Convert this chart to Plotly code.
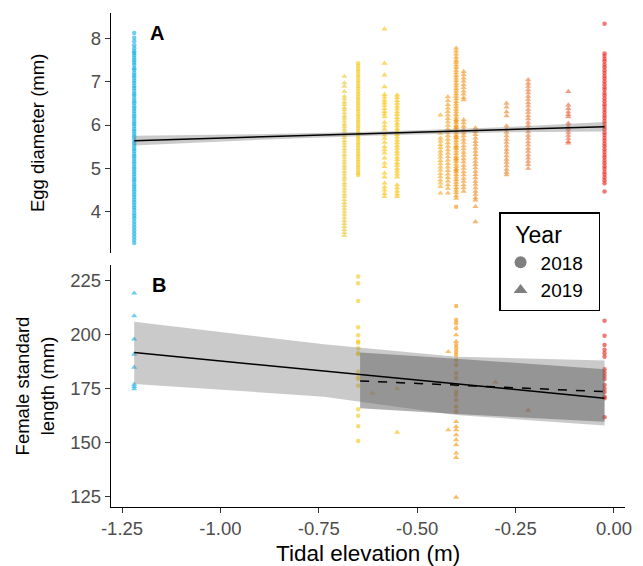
import plotly.graph_objects as go

FONT = "Liberation Sans, Arial, sans-serif"

# ---- sampling sites: tidal elevation (m) and colour ----
site_elev = [-1.219, -0.685, -0.650, -0.583, -0.551, -0.441, -0.422,
             -0.401, -0.382, -0.352, -0.273, -0.218, -0.116, -0.024]
site_color = ["#1fb4ea", "#eccd45", "#f2cd2c", "#f7c71b", "#f9c214", "#f4b02e", "#f3a52b",
              "#f59b1c", "#f39a2d", "#f0922f", "#ee8a36", "#ec7f3e", "#ea6a48", "#e8332a"]

# ---- panel A: egg diameter (mm) by site and year ----
egg_s01_2018 = [8.12, 8.01, 7.93, 7.84, 7.77, 7.70, 7.66, 7.61, 7.55, 7.49, 7.44, 7.38, 7.31, 7.27,
                7.20, 7.14, 7.09, 7.02, 6.97, 6.90, 6.85, 6.79, 6.72, 6.68, 6.61, 6.55, 6.50, 6.43,
                6.38, 6.32, 6.26, 6.20, 6.15, 6.08, 6.03, 5.98, 5.91, 5.86, 5.80, 5.74, 5.69, 5.62,
                5.57, 5.51, 5.45, 5.40, 5.33, 5.28, 5.22, 5.16, 5.11, 5.04, 4.99, 4.93, 4.87, 4.81,
                4.75, 4.70, 4.63, 4.58, 4.52, 4.46, 4.40, 4.34, 4.28, 4.22, 4.16, 4.10, 4.04, 3.97,
                3.91, 3.85, 3.78, 3.71, 3.64, 3.57, 3.50, 3.43, 3.36, 3.28]
egg_s02_2019 = [7.12, 6.97, 6.89, 6.77, 6.66, 6.60, 6.53, 6.47, 6.40, 6.35, 6.28, 6.21, 6.16, 6.09,
                6.02, 5.97, 5.90, 5.84, 5.77, 5.71, 5.64, 5.58, 5.52, 5.45, 5.39, 5.32, 5.26, 5.19,
                5.13, 5.06, 5.00, 4.93, 4.87, 4.80, 4.74, 4.67, 4.61, 4.54, 4.48, 4.41, 4.35, 4.28,
                4.21, 4.15, 4.08, 4.01, 3.94, 3.87, 3.80, 3.73, 3.66, 3.59, 3.52, 3.45]
egg_s03_2018 = [7.42, 7.36, 7.29, 7.23, 7.16, 7.10, 7.03, 6.97, 6.90, 6.84, 6.77, 6.71, 6.64, 6.58,
                6.51, 6.45, 6.38, 6.32, 6.25, 6.19, 6.12, 6.06, 5.99, 5.93, 5.86, 5.80, 5.73, 5.67,
                5.60, 5.54, 5.47, 5.41, 5.34, 5.28, 5.21, 5.15, 5.08, 5.02, 4.95, 4.89, 4.85]
egg_s04_2019 = [8.21, 7.42, 7.15, 6.88, 6.70, 6.64, 6.57, 6.51, 6.45, 6.38, 6.31, 6.25, 6.19, 6.06,
                5.98, 5.90, 5.77, 5.69, 5.60, 5.50, 5.43, 5.35, 5.24, 5.12, 5.04, 4.89, 4.80, 4.66,
                4.57, 4.50, 4.42, 4.35]
egg_s05_2019 = [6.69, 6.63, 6.56, 6.50, 6.43, 6.37, 6.30, 6.24, 6.17, 6.11, 6.04, 5.98, 5.91, 5.85,
                5.78, 5.72, 5.65, 5.59, 5.52, 5.46, 5.39, 5.33, 5.26, 5.20, 5.13, 5.07, 5.00, 4.94,
                4.87, 4.80, 4.62, 4.55, 4.48, 4.41, 4.35]
egg_s06_2019 = [6.23, 5.81, 5.70, 5.63, 5.55, 5.48, 5.40, 5.33, 5.26, 5.18, 5.11, 5.03, 4.96, 4.88,
                4.81, 4.73, 4.66, 4.58, 4.43]
egg_s07_2019 = [6.65, 6.56, 6.47, 6.39, 6.31, 6.23, 6.15, 6.07, 5.99, 5.91, 5.83, 5.75, 5.67, 5.59,
                5.51, 5.43, 5.35, 5.27, 5.19, 5.11, 5.03, 4.95, 4.87, 4.79, 4.71, 4.62, 4.54, 4.43]
egg_s08_2019 = [7.77, 7.70, 7.63, 7.56, 7.49, 7.44, 7.38, 7.32, 7.26, 7.20, 7.14, 7.08, 7.02, 6.96,
                6.90, 6.84, 6.78, 6.72, 6.66, 6.60, 6.54, 6.48, 6.42, 6.36, 6.30, 6.24, 6.18, 6.12,
                6.06, 6.00, 5.94, 5.88, 5.82, 5.76, 5.70, 5.64, 5.58, 5.52, 5.46, 5.40, 5.34, 5.28,
                5.22, 5.16, 5.10, 5.04, 4.98, 4.92, 4.86, 4.80, 4.74, 4.68, 4.62, 4.56, 4.50, 4.44,
                4.37, 4.31]
egg_s08_2018 = [6.10, 5.95, 5.72, 5.48, 5.21, 4.96, 4.12]
egg_s09_2019 = [7.23, 7.16, 7.08, 7.01, 6.93, 6.86, 6.78, 6.71, 6.63, 6.58, 6.12, 6.05, 5.97, 5.90,
                5.82, 5.75, 5.67, 5.60, 5.52, 5.45, 5.37, 5.30, 5.22, 5.15, 5.07, 5.00, 4.92, 4.85,
                4.77, 4.70, 4.62, 4.55, 4.47]
egg_s10_2019 = [5.93, 5.85, 5.78, 5.70, 5.62, 5.55, 5.47, 5.39, 5.32, 5.24, 5.16, 5.09, 5.01, 4.93,
                4.86, 4.78, 4.70, 4.63, 4.55, 4.47, 4.40, 4.32, 4.27, 4.12, 3.77]
egg_s11_2019 = [6.50, 6.41, 6.30, 6.21, 5.98, 5.90, 5.83, 5.75, 5.67, 5.60, 5.52, 5.44, 5.37, 5.29,
                5.21, 5.14, 5.06, 4.98, 4.91, 4.85]
egg_s12_2019 = [7.04, 6.96, 6.89, 6.81, 6.74, 6.66, 6.59, 6.51, 6.44, 6.36, 6.29, 6.21, 6.14, 6.06,
                5.99, 5.91, 5.84, 5.76, 5.69, 5.61, 5.54, 5.46, 5.39, 5.31, 5.24, 5.16, 5.09, 5.00]
egg_s13_2019 = [6.77, 6.46, 6.38, 6.30, 6.24, 6.19, 6.04, 5.97, 5.90, 5.83, 5.76, 5.69, 5.62, 5.58]
egg_s14_2018 = [8.33, 7.65, 7.59, 7.52, 7.46, 7.39, 7.33, 7.26, 7.20, 7.13, 7.07, 7.00, 6.94, 6.87,
                6.81, 6.74, 6.68, 6.61, 6.55, 6.48, 6.42, 6.35, 6.29, 6.22, 6.16, 6.09, 6.03, 5.96,
                5.90, 5.83, 5.77, 5.70, 5.64, 5.57, 5.51, 5.44, 5.38, 5.31, 5.25, 5.18, 5.12, 5.05,
                4.99, 4.92, 4.86, 4.79, 4.73, 4.66, 4.47]

# fitted egg-diameter model (mean and 95% band)
egg_fit_x = [-1.219, -0.90, -0.60, -0.30, -0.024]
egg_fit = [5.64, 5.725, 5.806, 5.886, 5.96]
egg_fit_hi = [5.75, 5.79, 5.85, 5.94, 6.07]
egg_fit_lo = [5.53, 5.66, 5.76, 5.83, 5.85]

# ---- panel B: female standard length (mm) ----
sl_s01_2019 = [219.2, 208.7, 197.9, 190.9, 184.9, 177.0, 175.9, 174.9]
sl_s03_2018 = [226.9, 223.8, 215.6, 203.4, 199.7, 196.8, 196.3, 193.7, 191.4, 191.1, 182.9,
               180.3, 179.5, 176.3, 165.5, 162.5, 157.6, 150.8]
sl_s08_2018 = [213.3, 206.8, 205.3, 203.0, 195.2, 193.7, 192.1, 190.6, 188.3, 186.0, 182.1,
               179.8, 176.7, 173.6, 172.1, 169.8, 166.7, 164.4]
sl_s08_2019 = [199.9, 196.8, 159.7, 157.4, 155.9, 153.6, 151.3, 149.0, 145.1, 143.1, 124.7]
sl_s14_2018 = [206.4, 199.5, 195.2, 193.0, 191.4, 189.8, 184.0, 182.5, 181.0, 179.5, 176.7,
               175.0, 173.5, 171.3, 170.6, 161.8]
# single 2019 females from other sites
sl_other_x = [-0.614, -0.551, -0.551, -0.421, -0.421, -0.301, -0.218]
sl_other_y = [172.9, 175.0, 154.8, 192.1, 155.9, 178.0, 165.0]
sl_other_color = ["#f2c830", "#f9c214", "#f9c214", "#f3a52b", "#f3a52b", "#ee8a36", "#ec7f3e"]

# full-range model and restricted-range model (mean and 95% band)
sl_fit_x = [-1.219, -0.737, -0.40, -0.024]
sl_fit = [191.7, 183.2, 177.3, 170.6]
sl_fit_hi = [206.0, 195.6, 189.8, 188.0]
sl_fit_lo = [177.2, 171.3, 162.8, 157.9]
sl_sub_x = [-0.645, -0.401, -0.024]
sl_sub = [178.6, 176.6, 173.6]
sl_sub_hi = [191.7, 188.9, 184.0]
sl_sub_lo = [165.9, 163.3, 159.7]

x_ticks = [-1.25, -1.00, -0.75, -0.50, -0.25, 0.00]
x_tick_text = ["-1.25", "-1.00", "-0.75", "-0.50", "-0.25", "0.00"]
egg_ticks = [4, 5, 6, 7, 8]
sl_ticks = [125, 150, 175, 200, 225]

SYMBOL = {2018: "circle", 2019: "triangle-up"}
SIZE = {2018: 4.5, 2019: 5.5}
ALPHA = 0.66

fig = go.Figure()


def add_points(site, year, values, xa, ya):
    fig.add_trace(go.Scatter(
        x=[site_elev[site]] * len(values), y=values, mode="markers",
        marker=dict(symbol=SYMBOL[year], size=SIZE[year], color=site_color[site],
                    opacity=ALPHA, line=dict(width=0)),
        xaxis=xa, yaxis=ya, showlegend=False, hoverinfo="skip"))


egg_groups = [
    (0, 2018, egg_s01_2018), (1, 2019, egg_s02_2019), (2, 2018, egg_s03_2018),
    (3, 2019, egg_s04_2019), (4, 2019, egg_s05_2019), (5, 2019, egg_s06_2019),
    (6, 2019, egg_s07_2019), (7, 2019, egg_s08_2019), (7, 2018, egg_s08_2018),
    (8, 2019, egg_s09_2019), (9, 2019, egg_s10_2019), (10, 2019, egg_s11_2019),
    (11, 2019, egg_s12_2019), (12, 2019, egg_s13_2019), (13, 2018, egg_s14_2018),
]
for site, year, vals in egg_groups:
    add_points(site, year, vals, "x", "y")

sl_groups = [
    (0, 2019, sl_s01_2019), (2, 2018, sl_s03_2018), (7, 2018, sl_s08_2018),
    (7, 2019, sl_s08_2019), (13, 2018, sl_s14_2018),
]
for site, year, vals in sl_groups:
    add_points(site, year, vals, "x2", "y2")

fig.add_trace(go.Scatter(
    x=sl_other_x, y=sl_other_y, mode="markers",
    marker=dict(symbol="triangle-up", size=SIZE[2019], color=sl_other_color,
                opacity=ALPHA, line=dict(width=0)),
    xaxis="x2", yaxis="y2", showlegend=False, hoverinfo="skip"))


def add_band(xs, lo, hi, fill, xa, ya):
    fig.add_trace(go.Scatter(
        x=xs + xs[::-1], y=hi + lo[::-1], fill="toself", fillcolor=fill,
        mode="lines", line=dict(width=0), xaxis=xa, yaxis=ya,
        showlegend=False, hoverinfo="skip"))


def add_line(xs, ys, dash, xa, ya):
    fig.add_trace(go.Scatter(
        x=xs, y=ys, mode="lines", line=dict(color="black", width=1.5, dash=dash),
        xaxis=xa, yaxis=ya, showlegend=False, hoverinfo="skip"))


add_band(egg_fit_x, egg_fit_lo, egg_fit_hi, "rgba(128,128,128,0.42)", "x", "y")
add_line(egg_fit_x, egg_fit, "solid", "x", "y")

add_band(sl_fit_x, sl_fit_lo, sl_fit_hi, "rgba(128,128,128,0.42)", "x2", "y2")
add_band(sl_sub_x, sl_sub_lo, sl_sub_hi, "rgba(95,95,95,0.5)", "x2", "y2")
add_line(sl_fit_x, sl_fit, "solid", "x2", "y2")
add_line(sl_sub_x, sl_sub, "dash", "x2", "y2")

# legend keys for sampling year
for year in (2018, 2019):
    fig.add_trace(go.Scatter(
        x=[None], y=[None], mode="markers", name=f"{year}\u00a0\u00a0",
        marker=dict(symbol=SYMBOL[year], size=15, color="#7f7f7f"),
        xaxis="x2", yaxis="y2", showlegend=True))

x_range = [-1.278, 0.028]
tick_font = dict(family=FONT, size=18.5, color="#4d4d4d")
axis_common = dict(showgrid=False, zeroline=False, linecolor="black", linewidth=1.3,
                   ticks="outside", ticklen=5, tickwidth=1.2, tickcolor="#333333",
                   tickfont=tick_font)


def label(text, x, y, size, angle=0):
    return dict(text=text, x=x, y=y, xref="paper", yref="paper", xanchor="center",
                yanchor="middle", textangle=angle, showarrow=False,
                font=dict(family=FONT, size=size, color="black"))


fig.update_layout(
    width=643, height=566,
    margin=dict(l=111, r=18, t=13, b=59),
    plot_bgcolor="white", paper_bgcolor="white",
    font=dict(family=FONT, color="black"),
    xaxis=dict(domain=[0, 1], range=x_range, anchor="y", showline=False,
               showticklabels=False, ticks="", showgrid=False, zeroline=False),
    yaxis=dict(domain=[0.514, 1], range=[3.05, 8.58], tickvals=egg_ticks,
               showline=True, anchor="x", **axis_common),
    xaxis2=dict(domain=[0, 1], range=x_range, anchor="y2", tickvals=x_ticks,
                ticktext=x_tick_text, showline=True, **axis_common),
    yaxis2=dict(domain=[0, 0.490], range=[120.2, 232.3], tickvals=sl_ticks,
                showline=True, anchor="x2", **axis_common),
    legend=dict(x=0.755, y=0.597, xanchor="left", yanchor="top",
                bordercolor="black", borderwidth=1.5, bgcolor="white",
                title=dict(text="\u00a0\u00a0Year",
                           font=dict(family=FONT, size=23, color="black")),
                font=dict(family=FONT, size=19, color="black"),
                itemsizing="constant", tracegroupgap=0),
    annotations=[
        label("<b>A</b>", 0.0895, 0.9595, 20),
        label("<b>B</b>", 0.093, 0.449, 20),
        label("Egg diameter (mm)", -0.144, 0.757, 18.5, -90),
        label("Female standard<br>length (mm)", -0.147, 0.245, 18.5, -90),
        label("Tidal elevation (m)", 0.5, -0.095, 22.5),
    ],
)

fig.write_html("out.html")
